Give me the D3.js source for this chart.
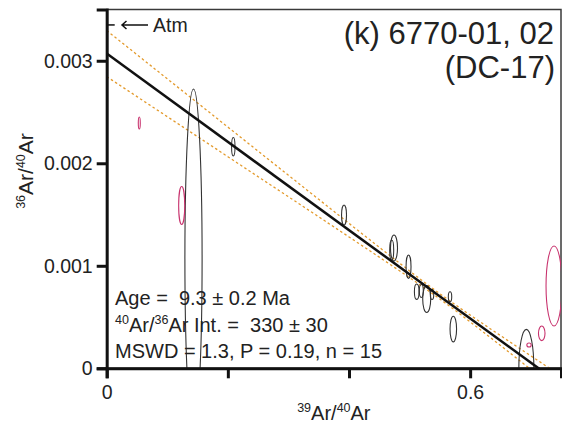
<!DOCTYPE html>
<html>
<head>
<meta charset="utf-8">
<script src="https://cdn.jsdelivr.net/npm/d3@7"></script>
<style>
  body { margin: 0; background: #fff; }
  svg { display: block; font-family: "Liberation Sans", Arial, sans-serif; }
  text { white-space: pre; }
</style>
</head>
<body>
<svg id="isochron" width="562" height="427"></svg>
<script>
// isochron points: 39Ar/40Ar, 36Ar/40Ar, ellipse half axes (data units)
var ptX  = [0.1433, 0.2090, 0.3918, 0.4743, 0.4705, 0.4983, 0.5118, 0.5194, 0.5283, 0.5371, 0.5668, 0.5722, 0.6928]
var ptY  = [0.001066, 0.002161, 0.001495, 0.001174, 0.001154, 0.000991, 0.000747, 0.000754, 0.000676, 0.000720, 0.000698, 0.000383, 0.0]
var ptEx = [0.0142, 0.0028, 0.0041, 0.0058, 0.0033, 0.0041, 0.0038, 0.0033, 0.0066, 0.0028, 0.0028, 0.0054, 0.0124]
var ptEy = [0.001658, 0.0000897, 0.0000975, 0.000127, 0.0000975, 0.000114, 0.000075, 0.0000634, 0.000132, 0.0000488, 0.0000488, 0.000125, 0.00038]

// excluded steps (drawn in magenta)
var exX  = [0.0538, 0.1238, 0.6972, 0.7182, 0.7385]
var exY  = [0.002393, 0.001588, 0.000227, 0.000341, 0.000803]
var exEx = [0.00165, 0.0050, 0.0036, 0.0054, 0.0132]
var exEy = [0.0000585, 0.000185, 0.0000195, 0.0000712, 0.00039]

// isochron fit
var fitIntercept = 0.00307
var fitXIntercept = 0.713
var bandS0 = 0.000026, bandS1 = 0.000406, bandXc = 0.55
var atmRatio = 1 / 298.56

var yTicks = [0, 0.001, 0.002, 0.003]
var xTicks = [0, 0.2, 0.4, 0.6]
var xTickLabels = ['0', '', '', '0.6']

var statLines = ['Age =  9.3 \u00b1 0.2 Ma', 'Int. =  330 \u00b1 30', 'MSWD = 1.3, P = 0.19, n = 15']

var svg = d3.select('#isochron')
var plotLeft = 106.7, plotRight = 561, plotTop = 9.5, plotBottom = 368.3

var x = d3.scaleLinear().domain([0, 0.75]).range([plotLeft, plotRight])
var y = d3.scaleLinear().domain([0, 0.0035]).range([plotBottom, plotTop])

svg.append('defs').append('clipPath')
    .attr('id', 'plotclip')
  .append('rect')
    .attr('x', plotLeft).attr('y', plotTop)
    .attr('width', plotRight - plotLeft).attr('height', plotBottom - plotTop)

// frame
svg.append('rect')
    .attr('x', plotLeft).attr('y', plotTop)
    .attr('width', plotRight - plotLeft).attr('height', plotBottom - plotTop)
    .attr('fill', 'none')
    .attr('stroke', '#3a3a3a')
    .attr('stroke-width', 1.5)

var plot = svg.append('g').attr('clip-path', 'url(#plotclip)')

// error envelope
var slope = -fitIntercept / fitXIntercept
var xs = d3.range(0, 0.7501, 0.005)
function band (sign) {
  return d3.line()
      .x(function (v) { return x(v) })
      .y(function (v) {
        var h = Math.sqrt(bandS0 * bandS0 + bandS1 * bandS1 * (v - bandXc) * (v - bandXc))
        return y(fitIntercept + slope * v + sign * h)
      })(xs)
}
plot.selectAll('path.band')
    .data([1, -1])
    .enter().append('path')
      .attr('class', 'band')
      .attr('d', band)
      .attr('fill', 'none')
      .attr('stroke', '#e39a2c')
      .attr('stroke-width', 1.3)
      .attr('stroke-dasharray', '2.5,2.5')

// points
var included = ptX.map(function (v, i) { return { x: v, y: ptY[i], ex: ptEx[i], ey: ptEy[i] } })
var excluded = exX.map(function (v, i) { return { x: v, y: exY[i], ex: exEx[i], ey: exEy[i] } })

function drawEllipses (data, color, cls) {
  plot.selectAll('ellipse.' + cls)
      .data(data)
      .enter().append('ellipse')
        .attr('class', cls)
        .attr('cx', function (d) { return x(d.x) })
        .attr('cy', function (d) { return y(d.y) })
        .attr('rx', function (d) { return x(d.ex) - x(0) })
        .attr('ry', function (d) { return y(0) - y(d.ey) })
        .attr('fill', 'none')
        .attr('stroke', color)
        .attr('stroke-width', 1.1)
}
drawEllipses(included, '#333', 'inc')
drawEllipses(excluded, '#c8336e', 'exc')

// regression line
plot.append('line')
    .attr('x1', x(0)).attr('y1', y(fitIntercept))
    .attr('x2', x(0.75)).attr('y2', y(fitIntercept + slope * 0.75))
    .attr('stroke', '#111')
    .attr('stroke-width', 2.5)

// axes
var yAxis = svg.append('g')
    .attr('transform', 'translate(' + plotLeft + ',0)')
    .call(d3.axisLeft(y).tickValues(yTicks).tickSize(10).tickPadding(4)
      .tickFormat(function (d) { return d === 0 ? '0' : d3.format('.3f')(d) }))
var xAxis = svg.append('g')
    .attr('transform', 'translate(0,' + plotBottom + ')')
    .call(d3.axisBottom(x).tickValues(xTicks).tickSize(10).tickPadding(7)
      .tickFormat(function (d, i) { return xTickLabels[i] }))

;[xAxis, yAxis].forEach(function (a) {
  a.select('.domain').attr('stroke', '#111').attr('stroke-width', 3)
  a.selectAll('.tick line').attr('stroke', '#111').attr('stroke-width', 3)
  a.selectAll('.tick text')
      .attr('fill', '#222')
      .style('font-size', '19.5px')
      .style('font-family', '"Liberation Sans", Arial, sans-serif')
})

// atmospheric marker
var ya = y(atmRatio)
svg.append('line')
    .attr('x1', plotLeft).attr('x2', plotLeft + 8)
    .attr('y1', ya).attr('y2', ya)
    .attr('stroke', '#111').attr('stroke-width', 1.5)
svg.append('path')
    .attr('d', 'M148,' + ya + 'H122M126.5,' + (ya - 4) + 'L122,' + ya + 'L126.5,' + (ya + 4))
    .attr('fill', 'none')
    .attr('stroke', '#111').attr('stroke-width', 1.5)
svg.append('text')
    .attr('x', 153).attr('y', ya + 7)
    .attr('fill', '#222')
    .style('font-size', '19.5px')
    .text('Atm')

// title
var title = svg.append('text')
    .attr('text-anchor', 'end')
    .attr('fill', '#222')
    .style('font-size', '31px')
title.append('tspan').attr('x', 554).attr('y', 44).text('(k) 6770-01, 02')
title.append('tspan').attr('x', 555).attr('y', 78).text('(DC-17)')

// stats block
var stats = svg.append('g').attr('fill', '#222').style('font-size', '20px')
stats.append('text').attr('x', 115).attr('y', 305).text(statLines[0])
var l2 = stats.append('text').attr('x', 115).attr('y', 332)
l2.append('tspan').style('font-size', '12.5px').attr('dy', -8).text('40')
l2.append('tspan').attr('dy', 8).text('Ar/')
l2.append('tspan').style('font-size', '12.5px').attr('dy', -8).text('36')
l2.append('tspan').attr('dy', 8).text('Ar ' + statLines[1])
stats.append('text').attr('x', 115).attr('y', 358).text(statLines[2])

// axis labels
function ratioLabel (sel, a, b) {
  sel.append('tspan').style('font-size', '12.5px').attr('dy', -8).text(a)
  sel.append('tspan').attr('dy', 8).text('Ar/')
  sel.append('tspan').style('font-size', '12.5px').attr('dy', -8).text(b)
  sel.append('tspan').attr('dy', 8).text('Ar')
}
var xl = svg.append('text')
    .attr('x', (plotLeft + plotRight) / 2).attr('y', 420)
    .attr('text-anchor', 'middle')
    .attr('fill', '#222')
    .style('font-size', '20px')
ratioLabel(xl, '39', '40')
var yl = svg.append('text')
    .attr('transform', 'translate(33,171) rotate(-90)')
    .attr('text-anchor', 'middle')
    .attr('fill', '#222')
    .style('font-size', '21px')
ratioLabel(yl, '36', '40')
</script>
</body>
</html>
